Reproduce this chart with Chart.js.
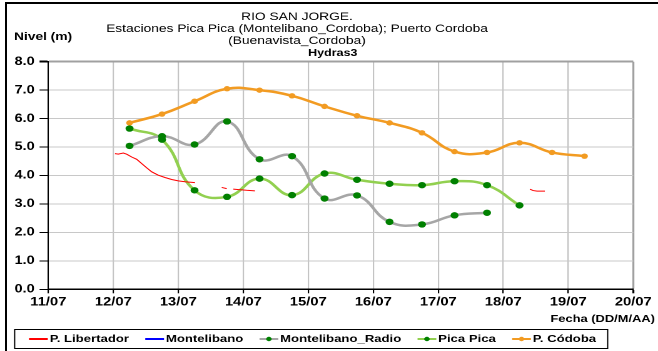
<!DOCTYPE html>
<html>
<head>
<meta charset="utf-8">
<script src="https://cdn.jsdelivr.net/npm/chart.js@4.4.1/dist/chart.umd.min.js"></script>
<style>
  html, body { margin: 0; padding: 0; background: #fff; overflow: hidden; }
  body { width: 658px; height: 351px; position: relative; }
  /* the whole chart is drawn narrow and stretched sideways */
  #wrap { position: absolute; left: 0; top: 0; width: 526px; height: 351px;
          transform: scaleX(1.251); transform-origin: 0 0; }
  canvas { display: block; }
  .edge { position: absolute; background: #000; }
</style>
</head>
<body>
<div id="wrap"><canvas id="chart" width="526" height="351"></canvas></div>
<div class="edge" style="left:5px;top:2px;width:2px;height:349px"></div>
<div class="edge" style="left:5px;top:2px;width:653px;height:2px"></div>
<script>
const FONT = '"Liberation Sans", Arial, sans-serif';

const titleLines = [
  "RIO SAN JORGE.",
  "Estaciones Pica Pica (Montelibano_Cordoba); Puerto Cordoba",
  "(Buenavista_Cordoba)",
];
const subtitle = "Hydras3";
const yTitle = "Nivel (m)";
const xTitle = "Fecha (DD/M/AA)";

// days counted from 11/07 00:00
const dayTicks = ["11/07", "12/07", "13/07", "14/07", "15/07", "16/07", "17/07", "18/07", "19/07", "20/07"];

// P. Libertador (hourly record, null = missing)
const libertadorDays = [1.026, 1.077, 1.154, 1.206, 1.283, 1.36, 1.437, 1.514, 1.591, 1.692, 1.795, 1.898, 2.0, 2.103, 2.257,
  2.45, 2.668, 2.745, 2.8, 2.846, 2.95, 3.05, 3.18, 5.0, 7.41, 7.46, 7.52, 7.64];
const libertadorLevels = [4.77, 4.75, 4.79, 4.75, 4.65, 4.57, 4.42, 4.27, 4.13, 4.01, 3.93, 3.86, 3.81, 3.78, 3.75,
  null, 3.58, 3.54, null, 3.52, 3.50, 3.48, 3.46, null, 3.52, 3.47, 3.45, 3.45];

// Montelibano: no readings in the period
const montelibanoDays = [];
const montelibanoLevels = [];

// readings at 06:00 and 18:00
const obsDays = [1.25, 1.75, 2.25, 2.75, 3.25, 3.75, 4.25, 4.75, 5.25, 5.75, 6.25, 6.75, 7.25, 7.75, 8.25];
const radioLevels = [5.04, 5.38, 5.09, 5.90, 4.57, 4.68, 3.19, 3.30, 2.37, 2.28, 2.60, 2.69];
const picaLevels = [5.65, 5.26, 3.48, 3.25, 3.89, 3.31, 4.07, 3.85, 3.71, 3.66, 3.80, 3.66, 2.95];
const cordobaLevels = [5.85, 6.16, 6.61, 7.05, 7.00, 6.80, 6.43, 6.10, 5.85, 5.50, 4.84, 4.81, 5.15, 4.81, 4.68];

const pairs = (xs, ys) => ys.map((y, i) => ({ x: xs[i], y }));

const textPlugin = {
  id: "texts",
  afterDraw(chart) {
    const { ctx } = chart;
    ctx.save();
    ctx.fillStyle = "#000";
    ctx.textBaseline = "middle";
    ctx.textAlign = "center";
    ctx.font = `11px ${FONT}`;
    titleLines.forEach((t, i) => ctx.fillText(t, 237.4, 17 + i * 12));
    ctx.font = `bold 10px ${FONT}`;
    ctx.fillText(subtitle, 266, 53);
    ctx.textAlign = "left";
    ctx.font = `bold 11px ${FONT}`;
    ctx.fillText(yTitle, 11.2, 37);
    ctx.textAlign = "right";
    ctx.font = `bold 10.3px ${FONT}`;
    ctx.fillText(xTitle, 523.5, 319);
    ctx.restore();
  },
};

const legendPlugin = {
  id: "boxLegend",
  afterDraw(chart) {
    const { ctx } = chart;
    const top = 329, h = 19, y = top + h / 2 + 0.5;
    const left = 11.2;
    let x = left + 12;
    ctx.save();
    ctx.font = `bold 10.5px ${FONT}`;
    ctx.textBaseline = "middle";
    ctx.textAlign = "left";
    chart.data.datasets.forEach((ds) => {
      ctx.strokeStyle = ds.borderColor;
      ctx.lineWidth = 2;
      ctx.beginPath();
      ctx.moveTo(x, y);
      ctx.lineTo(x + 15, y);
      ctx.stroke();
      if (ds.pointRadius > 0) {
        ctx.fillStyle = ds.pointBackgroundColor;
        ctx.beginPath();
        ctx.arc(x + 7.5, y, 2.2, 0, Math.PI * 2);
        ctx.fill();
      }
      x += 16.5;
      ctx.fillStyle = "#000";
      ctx.fillText(ds.label, x, y);
      x += ctx.measureText(ds.label).width + 13;
    });
    ctx.strokeStyle = "#000";
    ctx.lineWidth = 1;
    ctx.strokeRect(left + 0.5, top + 0.5, x - left - 4.2, h);
    ctx.restore();
  },
};

const smooth = {
  borderWidth: 2.5,
  pointRadius: 3.2,
  pointHoverRadius: 3.2,
  pointBorderWidth: 0,
  tension: 0.45,
  spanGaps: false,
};

new Chart(document.getElementById("chart"), {
  type: "line",
  data: {
    datasets: [
      {
        label: "P. Libertador",
        data: pairs(libertadorDays, libertadorLevels),
        borderColor: "#ff0000",
        borderWidth: 1,
        pointRadius: 0,
        tension: 0,
        spanGaps: false,
      },
      {
        label: "Montelibano",
        data: pairs(montelibanoDays, montelibanoLevels),
        borderColor: "#0000ff",
        borderWidth: 2,
        pointRadius: 0,
      },
      {
        ...smooth,
        label: "Montelibano_Radio",
        data: pairs(obsDays, radioLevels),
        borderColor: "#a6a6a6",
        pointBackgroundColor: "#008000",
      },
      {
        ...smooth,
        label: "Pica Pica",
        data: pairs(obsDays, picaLevels),
        borderColor: "#92d050",
        pointBackgroundColor: "#008000",
      },
      {
        ...smooth,
        label: "P. Códoba",
        data: pairs(obsDays, cordobaLevels),
        borderColor: "#f29b22",
        pointBackgroundColor: "#f29b22",
        pointRadius: 2.7,
      },
    ],
  },
  options: {
    responsive: false,
    animation: false,
    devicePixelRatio: 2,
    layout: { padding: { left: 0, top: 61.7, right: 19.8, bottom: 41.7 } },
    plugins: { legend: { display: false }, tooltip: { enabled: false }, title: { display: false } },
    scales: {
      x: {
        type: "linear",
        min: 0,
        max: 9,
        afterFit(scale) { scale.height = 20; },
        ticks: {
          stepSize: 1,
          autoSkip: false,
          maxRotation: 0,
          padding: 2,
          color: "#000",
          font: { family: FONT, size: 11.8, weight: "bold" },
          callback: (v) => dayTicks[v],
        },
        grid: {
          color: (c) => (c.index === 9 ? "#a0a0a0" : "#c4c4c4"),
          lineWidth: (c) => (c.index === 9 ? 1.6 : 1.1),
          tickColor: "#000",
          tickLength: 4,
        },
        border: { color: "#000", width: 1.5 },
      },
      y: {
        min: 0,
        max: 8,
        afterFit(scale) { scale.width = 38.6; },
        ticks: {
          stepSize: 0.5,
          padding: 4,
          color: "#000",
          font: { family: FONT, size: 11.5, weight: "bold" },
          callback: (v) => (Number.isInteger(v) ? v.toFixed(1) : ""),
        },
        grid: {
          color: (c) => {
            const v = c.tick ? c.tick.value : 0;
            if (v === 8) return "#a0a0a0";
            return Number.isInteger(v) ? "#c8c8c8" : "#e2e2e2";
          },
          lineWidth: (c) => {
            const v = c.tick ? c.tick.value : 0;
            if (v === 8) return 2;
            return Number.isInteger(v) ? 1 : 2;
          },
          tickColor: (c) => (c.tick && Number.isInteger(c.tick.value) ? "#000" : "rgba(0,0,0,0)"),
          tickLength: 7,
        },
        border: { color: "#000", width: 1 },
      },
    },
  },
  plugins: [textPlugin, legendPlugin],
});
</script>
</body>
</html>
